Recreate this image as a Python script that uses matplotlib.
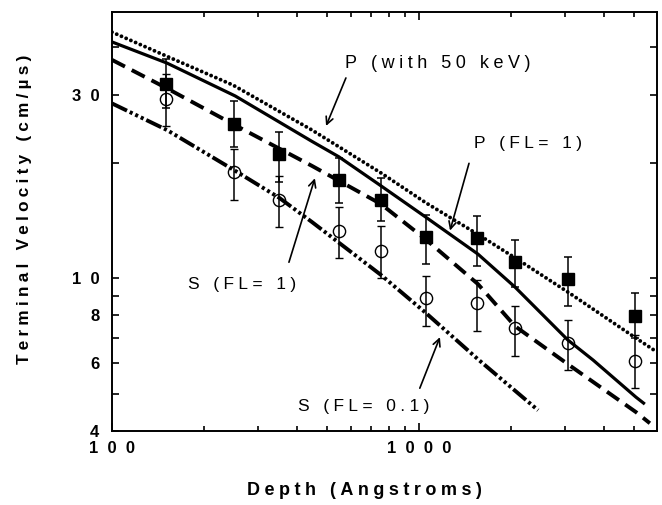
import matplotlib
matplotlib.use("Agg")
import matplotlib.pyplot as plt
import numpy as np

plt.rcParams['font.family'] = ['Liberation Sans', 'DejaVu Sans']
plt.rcParams['lines.scale_dashes'] = False

# measured points (depth in Angstrom, velocity in cm/us)
depth = [150, 250, 350, 550, 750, 1050, 1550, 2050, 3050, 5050]
p_vel = [32.0, 25.2, 21.0, 18.0, 16.0, 12.8, 12.7, 11.0, 9.95, 7.96]
p_lo = [27.8, 21.9, 17.8, 15.7, 14.1, 10.9, 10.75, 9.5, 8.45, 7.0]
p_hi = [37.2, 28.9, 24.0, 20.6, 18.2, 14.6, 14.5, 12.6, 11.35, 9.15]
s_vel = [29.3, 18.9, 16.0, 13.3, 11.8, 8.87, 8.6, 7.4, 6.77, 6.08]
s_lo = [24.9, 16.0, 13.6, 11.3, 10.0, 7.5, 7.3, 6.27, 5.76, 5.17]
s_hi = [34.0, 21.7, 18.5, 15.3, 13.7, 10.1, 9.9, 8.45, 7.77, 7.1]

# calculated curves
p50_x = [100, 151, 248, 448, 751, 1054, 1556, 2054, 3055, 5090, 5960]
p50_y = [43.7, 37.8, 31.8, 24.3, 18.8, 15.7, 13.0, 11.3, 9.2, 6.98, 6.42]
pfl_x = [100, 151, 252, 448, 548, 751, 1054, 1556, 2054, 3055, 3690, 5090, 5440]
pfl_y = [41.2, 36.3, 29.8, 22.7, 20.7, 17.4, 14.4, 11.55, 9.48, 6.9, 6.12, 4.9, 4.7]
sfl_x = [100, 151, 252, 448, 751, 1054, 1556, 2054, 3055, 5090, 5650]
sfl_y = [37.0, 31.2, 25.0, 19.6, 15.6, 12.6, 9.65, 7.5, 5.97, 4.48, 4.19]
s01_x = [100, 151, 250, 350, 448, 751, 1054, 1556, 2443]
s01_y = [28.5, 24.3, 19.1, 16.2, 14.0, 10.2, 8.11, 6.15, 4.53]

xticks = [100, 1000]
xlabels = ['1  0  0', '1  0  0  0']
yticks = [4, 6, 8, 10, 30]
ylabels = ['4', '6', '8', '1  0', '3  0']


def tracked(s):
    # the original uses very wide letter spacing
    return '\u2005'.join(s)


fig = plt.figure(figsize=(6.62, 5.05), dpi=100)
ax = fig.add_axes([112 / 662, 74 / 505, 545 / 662, 419 / 505])
ax.set_xscale('log')
ax.set_yscale('log')

ax.plot(p50_x, p50_y, color='black', lw=2.8, linestyle=(0, (0.01, 3.7)),
        dash_capstyle='round')
ax.plot(pfl_x, pfl_y, color='black', lw=2.3, solid_capstyle='butt')
ax.plot(sfl_x, sfl_y, color='black', lw=2.8, linestyle=(0, (10.5, 5.5)))
ax.plot(s01_x, s01_y, color='black', lw=2.8,
        linestyle=(0, (12, 2.2, 2.2, 2.2, 2.2, 2.2, 2.2, 2.2)))

p_vel = np.array(p_vel)
s_vel = np.array(s_vel)
ax.errorbar(depth, p_vel, yerr=[p_vel - p_lo, np.array(p_hi) - p_vel], fmt='s',
            ms=8.8, color='black', elinewidth=1.1, capsize=3, capthick=1.1, zorder=3)
ax.errorbar(depth, s_vel, yerr=[s_vel - s_lo, np.array(s_hi) - s_vel], fmt='o',
            ms=8.8, mfc='none', mec='black', mew=1.0, color='black',
            elinewidth=1.1, capsize=3, capthick=1.1, zorder=3)

ax.set_xlim(100, 5960)
ax.set_ylim(4, 49.3)

ax.set_xticks(xticks)
ax.set_xticklabels(xlabels, fontsize=12, fontweight='bold')
ax.set_xticks([200, 300, 400, 500, 600, 700, 800, 900, 2000, 3000, 4000, 5000], minor=True)
ax.set_yticks(yticks)
ax.set_yticklabels(ylabels, fontsize=12, fontweight='bold')
ax.set_yticks([5, 7, 9, 20, 40], minor=True)
ax.xaxis.set_minor_formatter(plt.NullFormatter())
ax.yaxis.set_minor_formatter(plt.NullFormatter())
ax.tick_params(which='both', direction='in', top=True, right=True, width=1.2)
ax.tick_params(axis='x', which='major', length=6, pad=7)
ax.tick_params(axis='x', which='minor', length=3.5)
ax.tick_params(axis='y', which='both', length=5, pad=9)
for sp in ax.spines.values():
    sp.set_linewidth(1.4)

ax.set_xlabel(tracked('Depth (Angstroms)'), fontsize=13, fontweight='bold')
ax.xaxis.set_label_coords(0.464, -0.143)
ax.xaxis.label.set_va('center')
ax.set_ylabel(tracked('Terminal Velocity (cm/µs)'), fontsize=12.3, fontweight='bold')
ax.yaxis.set_label_coords(-0.160, 0.53)
ax.yaxis.label.set_va('center')

arrow = dict(arrowstyle='->', color='black', lw=1.2, shrinkA=0, shrinkB=0,
             mutation_scale=13)
ax.text(574, 36.3, tracked('P (with 50 keV)'), fontsize=13, va='center', ha='left')
ax.annotate('', xy=(498, 24.9), xytext=(578, 33.2), arrowprops=arrow)
ax.text(1511, 22.4, tracked('P (FL= 1)'), fontsize=12.5, va='center', ha='left')
ax.annotate('', xy=(1262, 13.3), xytext=(1455, 19.9), arrowprops=arrow)
ax.text(177, 9.6, tracked('S (FL= 1)'), fontsize=12.5, va='center', ha='left')
ax.annotate('', xy=(458, 18.2), xytext=(377, 11.0), arrowprops=arrow)
ax.text(404, 4.62, tracked('S (FL= 0.1)'), fontsize=12.5, va='center', ha='left')
ax.annotate('', xy=(1170, 7.02), xytext=(1006, 5.17), arrowprops=arrow)

fig.savefig('out.png', dpi=100)
